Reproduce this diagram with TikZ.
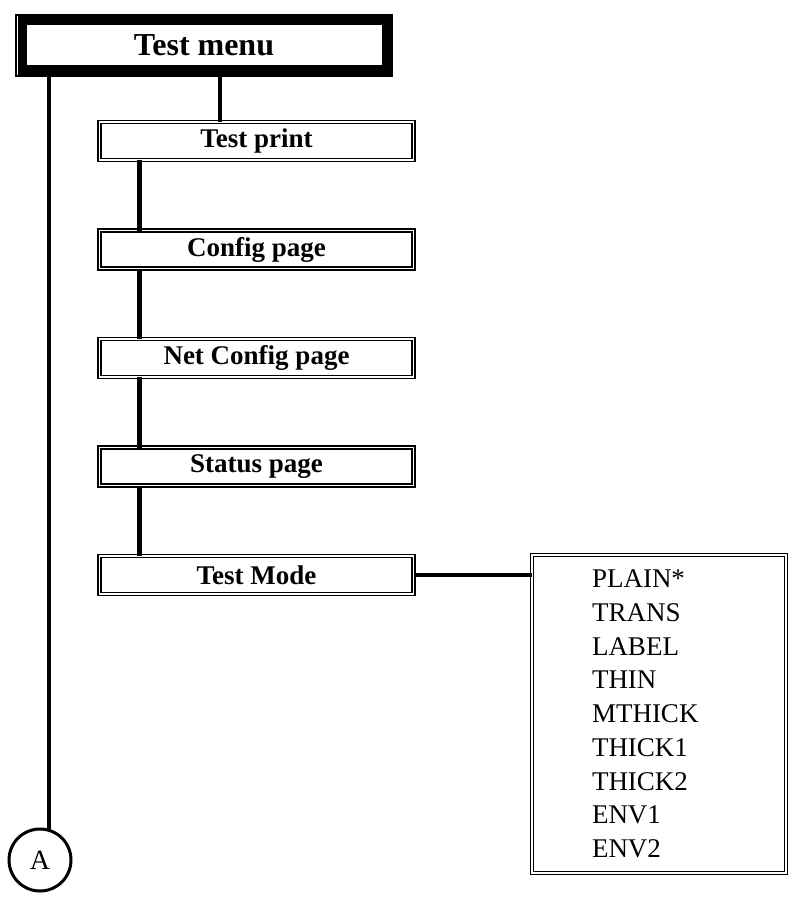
\documentclass[tikz,border=0pt]{standalone}
\usepackage{fontspec}
\setmainfont{Liberation Serif}
\usepackage{tikz}
\usetikzlibrary{positioning,calc}

\begin{document}
\begin{tikzpicture}[x=1pt, y=-1pt,
    menubox/.style={draw, double, line width=1.3pt, double distance=1.6pt,
        minimum width=314pt, minimum height=38pt, inner sep=0pt, outer sep=0pt,
        font=\fontsize{27}{30}\selectfont\bfseries},
    link/.style={line width=4.5pt}]
    \useasboundingbox (0,0) rectangle (798,899);
    % Top menu box
    \node[draw, line width=9pt, minimum width=364pt, minimum height=49pt,
          inner sep=0pt, outer sep=0pt,
          font=\fontsize{32}{36}\selectfont\bfseries] (tmenu) at (204,45.5) {Test menu};
    \draw[line width=1.5pt] ([shift={(-6pt,6pt)}]tmenu.north west)
         rectangle ([shift={(6pt,-6pt)}]tmenu.south east);
    % Sub menu boxes
    \node[menubox] (tprint) at (256.5,141) {Test print};
    \node[menubox] (cpage)  at (256.5,249.5) {Config page};
    \node[menubox] (npage)  at (256.5,358) {Net Config page};
    \node[menubox] (spage)  at (256.5,466.5) {Status page};
    \node[menubox] (tmode)  at (256.5,575) {Test Mode};
    % Options box
    \node[draw, double, line width=1.3pt, double distance=1.6pt,
          minimum width=254pt, minimum height=318pt, inner xsep=60pt,
          text width=134pt, align=left, outer sep=0pt,
          font=\fontsize{27}{33.75}\selectfont] (opts) at (659,714)
         {PLAIN*\\TRANS\\LABEL\\THIN\\MTHICK\\THICK1\\THICK2\\ENV1\\ENV2};
    % Continuation mark
    \node[draw, circle, line width=3pt, minimum size=62pt, inner sep=0pt,
          font=\fontsize{28}{30}\selectfont] (A) at (40,860) {A};
    % Links
    \draw[link] (A.74 |- tmenu.south) -- (A.74);
    \draw[link] ([xshift=16pt]tmenu.south) -- ([xshift=16pt]tmenu.south |- tprint.north);
    \foreach \a/\b in {tprint/cpage, cpage/npage, npage/spage, spage/tmode}
        \draw[link] ([xshift=40pt]\a.south west) -- ([xshift=40pt]\b.north west);
    \draw[link] (tmode.east) -- (opts.west |- tmode.east);
\end{tikzpicture}
\end{document}
